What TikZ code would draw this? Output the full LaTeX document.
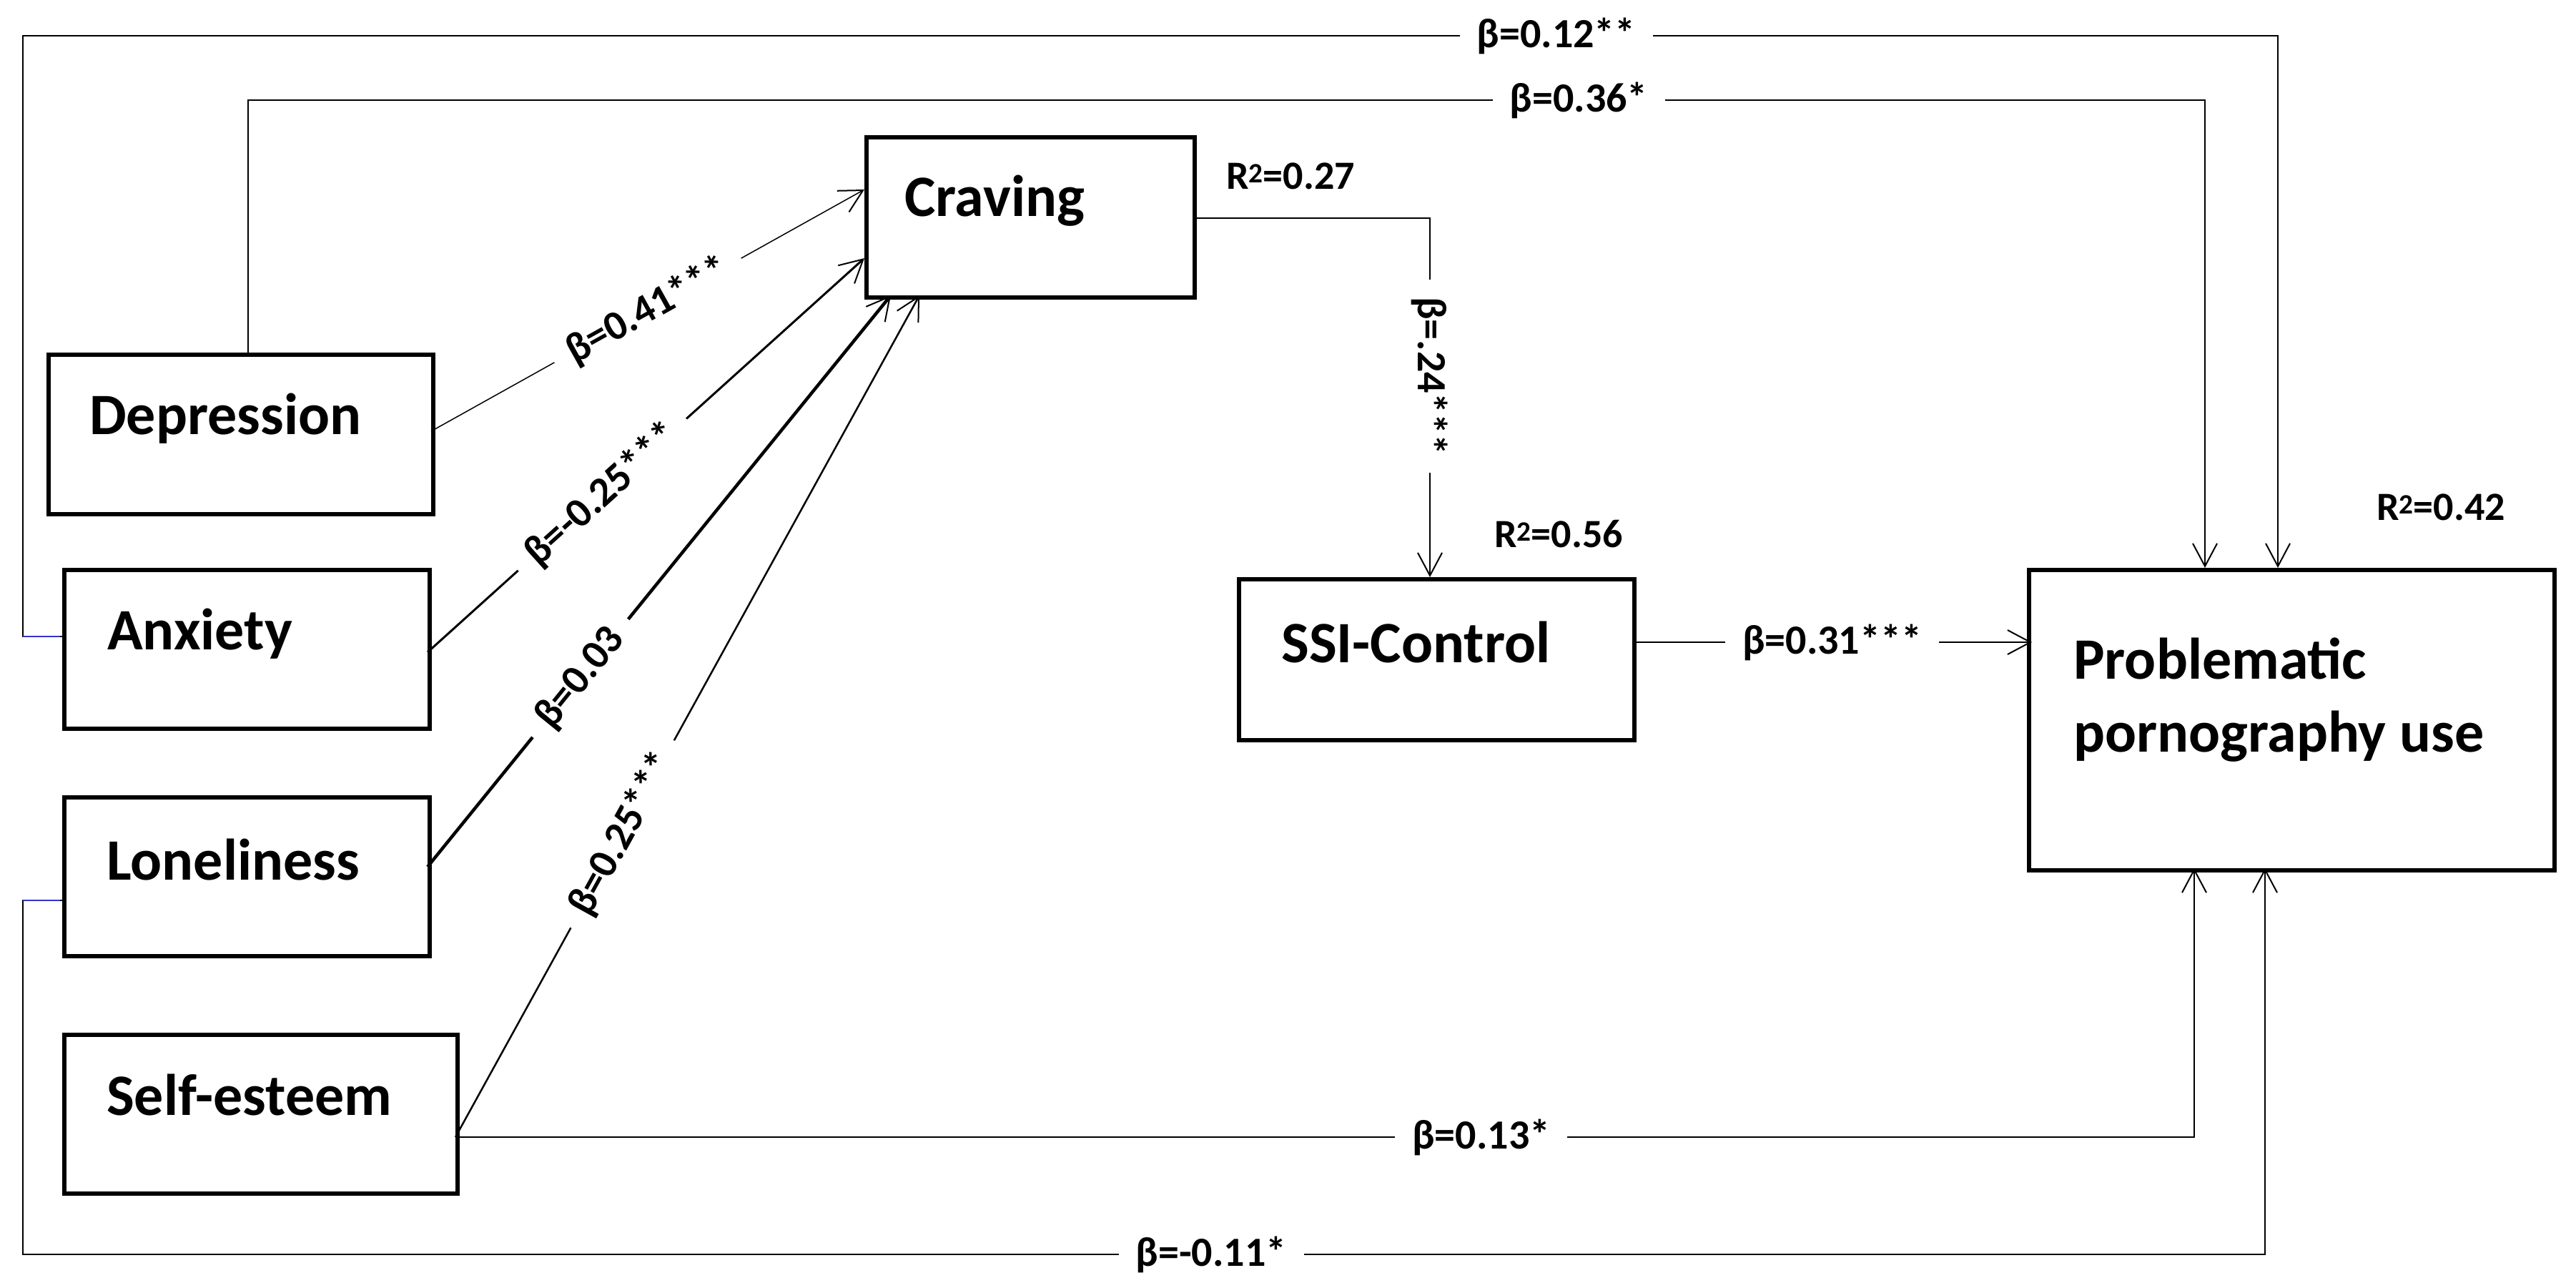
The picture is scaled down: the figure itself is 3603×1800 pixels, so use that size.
\documentclass[tikz,border=0pt]{standalone}
\usepackage{fontspec}
\setmainfont{Carlito}
\usetikzlibrary{arrows.meta}
\begin{document}
\begin{tikzpicture}[x=1pt,y=-1pt,
  box/.style={draw,line width=6pt,minimum width=#1,inner sep=0,anchor=north west},
  txt/.style={font=\fontsize{82}{90}\selectfont\bfseries,anchor=west,inner sep=0},
  lab/.style={font=\fontsize{58}{64}\selectfont\bfseries,fill=white,inner ysep=6pt,inner xsep=24pt},
  rlab/.style={font=\fontsize{56}{62}\selectfont\bfseries,inner sep=0},
  arr/.style={-{Straight Barb[length=32pt,width=34pt,line width=2pt]}},
  conn/.style={line width=2pt}]
\useasboundingbox (0,0) rectangle (3603,1800);
% boxes
\node[box=538pt,minimum height=223pt] (dep) at (65,493) {};
\node[box=511pt,minimum height=222pt] (anx) at (87,794) {};
\node[box=511pt,minimum height=222pt] (lon) at (87,1112) {};
\node[box=550pt,minimum height=222pt] (sel) at (87,1444) {};
\node[box=459pt,minimum height=224pt] (cra) at (1209,189) {};
\node[box=553pt,minimum height=225pt] (ssi) at (1730,807) {};
\node[box=735pt,minimum height=420pt] (ppu) at (2835,794) {};
% texts
\node[txt] (tdep) at (125,585) {Depression};
\node[txt] (tanx) at (150,886) {Anxiety};
\node[txt] (tlon) at (149,1202) {Loneliness};
\node[txt] (tsel) at (149,1531) {Self-esteem};
\node[txt] (tcra) at (1265,281) {Craving};
\node[txt] (tssi) at (1792,898) {SSI-Control};
\node[txt,align=left] (tppu) at (2900,979) {Problematic\\[12pt]pornography use};
% R2 labels
\node[rlab] (r1) at (1805,246) {R\textsuperscript{2}=0.27};
\node[rlab] (r2) at (2180,747) {R\textsuperscript{2}=0.56};
\node[rlab] (r3) at (3414,709) {R\textsuperscript{2}=0.42};
% coordinates
\coordinate (c1) at (1209,265);
\coordinate (c2) at (1209,361);
\coordinate (c3) at (1246,413);
\coordinate (c4) at (1286,413);
\coordinate (d1) at (603,603);
\coordinate (a1) at (598,912);
\coordinate (l1) at (598,1212);
\coordinate (s1) at (637,1590);
% arrows to craving
\draw[conn,arr,line width=1.5pt] (d1) -- node[lab,sloped,pos=0.5]{β=0.41***} (c1);
\draw[conn,arr,line width=3pt] (a1) -- node[lab,sloped,pos=0.4]{β=-0.25***} (c2);
\draw[conn,arr,line width=4.5pt] (l1) -- node[lab,sloped,pos=0.33]{β=0.03} (c3);
\draw[conn,arr,line width=2.5pt] (s1) -- node[lab,sloped,pos=0.36]{β=0.25***} (c4);
% craving -> ssi
\draw[conn,arr] (1668,305) -| node[lab,rotate=-90,pos=0.72]{β=.24***} (2000,807);
% ssi -> ppu
\draw[conn,arr] (2283,898) -- node[lab,pos=0.5]{β=0.31***} (2842,898);
% top paths
\draw[conn,arr] (anx.west |- 0,890) -- (32,890) -- (32,50) -- node[lab,pos=0.68]{β=0.12**} (3186,50) -- (3186,794);
\draw[conn,arr] (347,493) -- (347,140) -- node[lab,pos=0.68]{β=0.36*} (3084,140) -- (3084,794);
% bottom paths
\draw[conn,arr] (s1) -- node[lab,pos=0.59]{β=0.13*} (3069,1590) -- (3069,1214);
\draw[conn,arr] (lon.west |- 0,1259) -- (32,1259) -- (32,1754) -- node[lab,pos=0.53]{β=-0.11*} (3168,1754) -- (3168,1214);
\draw[line width=2.5pt,color=blue!60!gray] (32,890) -- (84,890);
\draw[line width=2.5pt,color=blue!60!gray] (32,1259) -- (84,1259);
\end{tikzpicture}
\end{document}
